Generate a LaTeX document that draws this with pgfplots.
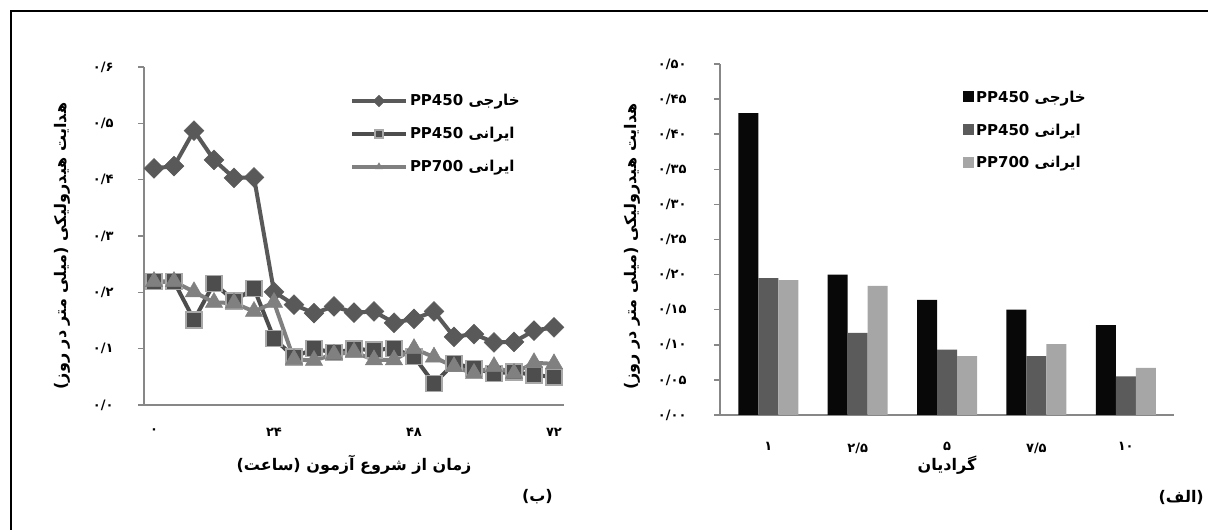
\documentclass[border=0pt]{standalone}
\usepackage{fontspec}
\usepackage{pgfplots}
\pgfplotsset{compat=1.18}
\TeXXeTstate=1
\setmainfont{DejaVu Sans}
\newfontfamily\arabicfont[Script=Arabic]{DejaVu Sans}

\definecolor{axgray}{HTML}{878787}
\definecolor{serA}{HTML}{595959}
\definecolor{serB}{HTML}{4D4D4D}
\definecolor{serBedge}{HTML}{A8A8A8}
\definecolor{serC}{HTML}{808080}
\definecolor{barA}{HTML}{080808}
\definecolor{barB}{HTML}{5B5B5B}
\definecolor{barC}{HTML}{A6A6A6}

\newcommand{\tickfont}{\arabicfont\bfseries\fontsize{13}{15}\selectfont}
\newcommand{\labfont}{\arabicfont\bfseries\fontsize{16}{18}\selectfont}
\newcommand{\legfont}{\arabicfont\bfseries\fontsize{15}{17}\selectfont}

\begin{document}
\begin{tikzpicture}
\path[use as bounding box] (0,0) rectangle (1208pt,530pt);
\draw[line width=2pt] (11pt,0pt) -- (11pt,519pt) -- (1208pt,519pt);

% (b) hydraulic conductivity against time
\begin{axis}[
  at={(144pt,125pt)}, anchor=south west,
  scale only axis, width=420pt, height=338pt,
  xmin=-0.5, xmax=20.5, ymin=0, ymax=0.6,
  axis x line*=bottom, axis y line*=left,
  axis line style={axgray, line width=1.5pt},
  xtick={0,6,13,20}, xticklabels={۰,۲۴,۴۸,۷۲},
  ytick={0,0.1,0.2,0.3,0.4,0.5,0.6},
  yticklabels={۰/۰,۰/۱,۰/۲,۰/۳,۰/۴,۰/۵,۰/۶},
  xtick style={draw=none},
  ytick style={axgray, line width=1.5pt},
  tick align=outside, major tick length=6pt,
  tick label style={font=\tickfont},
  yticklabel style={xshift=-21pt},
  xticklabel style={yshift=-14pt},
  xlabel={\beginR زمان از شروع آزمون (ساعت)\endR},
  ylabel={\beginR هدایت هیدرولیکی (میلی متر در روز)\endR},
  every axis x label/.style={at={(axis description cs:0.5,-0.178)}, anchor=center, font=\labfont},
  every axis y label/.style={at={(axis description cs:-0.195,0.47)}, rotate=90, anchor=center, font=\labfont},
  legend style={at={(0.49,0.925)}, anchor=north west, draw=none, fill=none,
    font=\legfont, row sep=16pt, inner sep=0pt},
  legend cell align=left,
  legend image code/.code={\draw[mark repeat=2,mark phase=2,#1] plot coordinates {(0pt,0pt) (27pt,0pt) (54pt,0pt)};},
  legend image post style={mark size=4pt},
  clip=false
]

% foreign PP450
\addplot[serA, line width=4pt, mark=square*, mark size=7pt,
  mark options={rotate=45, fill=serA, draw=serA, line width=0.5pt}] table {
0 0.420
1 0.424
2 0.487
3 0.435
4 0.403
5 0.404
6 0.201
7 0.178
8 0.163
9 0.175
10 0.164
11 0.166
12 0.146
13 0.153
14 0.166
15 0.121
16 0.126
17 0.111
18 0.112
19 0.132
20 0.138
};
\addlegendentry{PP450 \beginR خارجی\endR}

% Iranian PP450
\addplot[serB, line width=4pt, mark=square*, mark size=8pt,
  mark options={fill=serB, draw=serBedge, line width=1.5pt}] table {
0 0.219
1 0.219
2 0.151
3 0.216
4 0.185
5 0.207
6 0.118
7 0.085
8 0.100
9 0.093
10 0.099
11 0.098
12 0.100
13 0.086
14 0.038
15 0.074
16 0.065
17 0.056
18 0.059
19 0.053
20 0.050
};
\addlegendentry{PP450 \beginR ایرانی\endR}

% Iranian PP700
\addplot[serC, line width=4pt, mark=triangle*, mark size=10pt,
  mark options={fill=serC, draw=serC, line width=0.5pt}] table {
0 0.219
1 0.219
2 0.201
3 0.182
4 0.181
5 0.166
6 0.182
7 0.081
8 0.079
9 0.090
10 0.094
11 0.080
12 0.080
13 0.100
14 0.085
15 0.068
16 0.056
17 0.068
18 0.056
19 0.075
20 0.073
};
\addlegendentry{PP700 \beginR ایرانی\endR}
\end{axis}

% (a) hydraulic conductivity against gradient
\begin{axis}[
  at={(720pt,115pt)}, anchor=south west,
  scale only axis, width=454pt, height=351pt,
  xmin=-0.54, xmax=4.54, ymin=0, ymax=0.5,
  ybar=0pt, bar width=20pt,
  axis x line*=bottom, axis y line*=left,
  axis line style={axgray, line width=1.5pt},
  xtick={0,1,2,3,4}, xticklabels={۱,۲/۵,۵,۷/۵,۱۰},
  ytick={0,0.05,0.1,0.15,0.2,0.25,0.3,0.35,0.4,0.45,0.5},
  yticklabels={۰/۰۰,۰/۰۵,۰/۱۰,۰/۱۵,۰/۲۰,۰/۲۵,۰/۳۰,۰/۳۵,۰/۴۰,۰/۴۵,۰/۵۰},
  xtick style={draw=none},
  ytick style={axgray, line width=1.5pt},
  tick align=outside, major tick length=6pt,
  tick label style={font=\tickfont},
  yticklabel style={xshift=-24pt},
  xticklabel style={yshift=-18pt},
  xlabel={\beginR گرادیان\endR},
  ylabel={\beginR هدایت هیدرولیکی (میلی متر در روز)\endR},
  every axis x label/.style={at={(axis description cs:0.5,-0.142)}, anchor=center, font=\labfont},
  every axis y label/.style={at={(axis description cs:-0.194,0.48)}, rotate=90, anchor=center, font=\labfont},
  legend style={at={(0.535,0.93)}, anchor=north west, draw=none, fill=none,
    font=\legfont, row sep=16pt, inner sep=0pt},
  legend cell align=left,
  legend image code/.code={\fill[#1] (0pt,-5pt) rectangle (11pt,6pt);},
  clip=false
]
\addplot[fill=barA, draw=none] coordinates {(0,0.430) (1,0.200) (2,0.164) (3,0.150) (4,0.128)};
\addlegendentry{PP450 \beginR خارجی\endR}
\addplot[fill=barB, draw=none] coordinates {(0,0.195) (1,0.117) (2,0.093) (3,0.084) (4,0.055)};
\addlegendentry{PP450 \beginR ایرانی\endR}
\addplot[fill=barC, draw=none] coordinates {(0,0.192) (1,0.184) (2,0.084) (3,0.101) (4,0.067)};
\addlegendentry{PP700 \beginR ایرانی\endR}
\end{axis}

\node[font=\labfont, anchor=east, inner sep=0pt] at (553pt,33pt) {\beginR(ب)\endR};
\node[font=\labfont, anchor=east, inner sep=0pt] at (1204pt,33pt) {\beginR(الف)\endR};
\end{tikzpicture}
\end{document}
